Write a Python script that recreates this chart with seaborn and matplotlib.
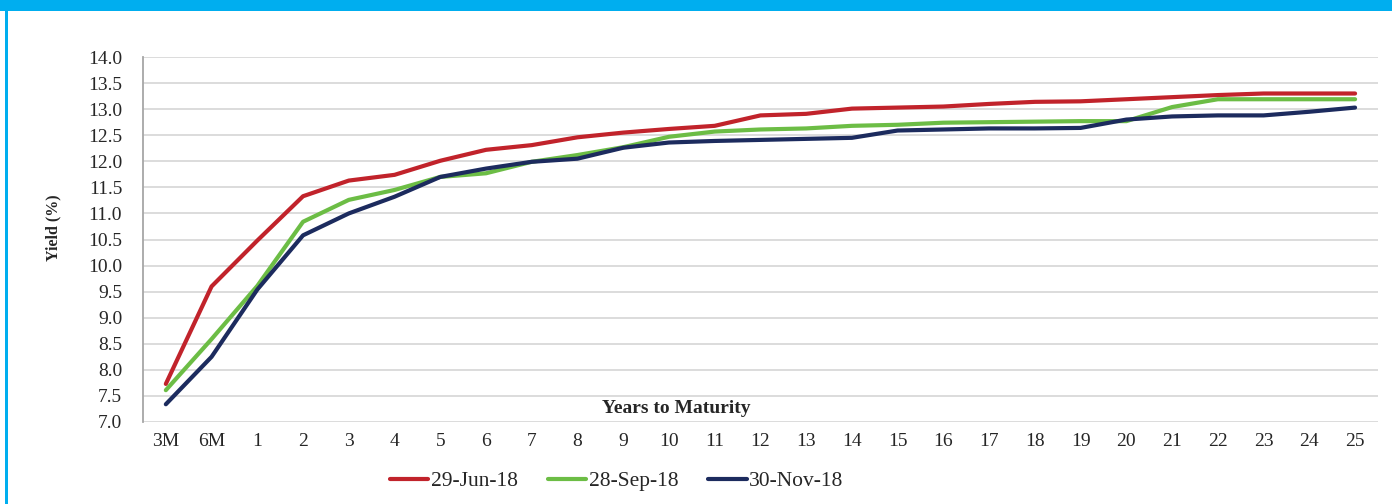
import matplotlib
matplotlib.use("Agg")
import numpy as np
import pandas as pd
import matplotlib.pyplot as plt
import seaborn as sns
from matplotlib.patches import Rectangle


maturities = ["3M", "6M", "1", "2", "3", "4", "5", "6", "7", "8", "9", "10", "11", "12",
              "13", "14", "15", "16", "17", "18", "19", "20", "21", "22", "23", "24", "25"]

jun_yields = [7.73, 9.60, 10.48, 11.33, 11.63, 11.74, 12.01, 12.22, 12.31, 12.46, 12.55, 12.62, 12.68, 12.88,
              12.91, 13.01, 13.03, 13.05, 13.10, 13.14, 13.15, 13.19, 13.23, 13.27, 13.30, 13.30, 13.30]
sep_yields = [7.61, 8.59, 9.61, 10.84, 11.26, 11.45, 11.70, 11.77, 11.99, 12.12, 12.27, 12.47, 12.57, 12.61,
              12.63, 12.68, 12.70, 12.74, 12.75, 12.76, 12.77, 12.77, 13.04, 13.19, 13.19, 13.19, 13.19]
nov_yields = [7.34, 8.25, 9.54, 10.58, 11.00, 11.32, 11.70, 11.86, 11.99, 12.05, 12.26, 12.36, 12.39, 12.41,
              12.43, 12.45, 12.59, 12.61, 12.63, 12.63, 12.64, 12.80, 12.86, 12.88, 12.88, 12.95, 13.03]

series_names = ["29-Jun-18", "28-Sep-18", "30-Nov-18"]
line_colors = ["#C1232B", "#6CBD45", "#1C2B5E"]

frames = []
for name, vals in zip(series_names, [jun_yields, sep_yields, nov_yields]):
    frames.append(pd.DataFrame({"pos": np.arange(len(maturities)), "Maturity": maturities,
                                "Yield": vals, "Series": name}))
df = pd.concat(frames, ignore_index=True)

sns.set_style("white")
plt.rcParams["font.family"] = ["Liberation Serif", "DejaVu Serif"]

fig = plt.figure(figsize=(13.92, 5.04), dpi=100)
ax = fig.add_axes([0.1027, 0.1627, 0.8872, 0.7242])

sns.lineplot(data=df, x="pos", y="Yield", hue="Series", hue_order=series_names,
             palette=line_colors, linewidth=3, ax=ax)

ax.set_xlim(-0.5, len(maturities) - 0.5)
ax.set_ylim(7, 14)
ax.set_yticks(np.arange(7, 14.01, 0.5))
ax.set_yticklabels([f"{v:.1f}" for v in np.arange(7, 14.01, 0.5)])
ax.set_xticks(np.arange(len(maturities)))
ax.set_xticklabels(maturities)
ax.grid(axis="y", color="#D9D9D9", linewidth=1.3)
ax.grid(axis="x", visible=False)
ax.set_axisbelow(True)
for side in ["top", "right", "bottom"]:
    ax.spines[side].set_visible(False)
ax.spines["left"].set_color("#A6A6A6")
ax.spines["left"].set_linewidth(1.3)
ax.tick_params(axis="y", length=0, labelsize=14, pad=15)
ax.tick_params(axis="x", length=0, labelsize=14, pad=8)
ax.set_xlabel("")
ax.set_ylabel("")

ax.text(0.432, 0.038, "Years to Maturity", transform=ax.transAxes, ha="center", va="center",
        fontsize=14, fontweight="bold")
fig.text(0.0384, 0.549, "Yield (%)", rotation=90, ha="center", va="center",
         fontsize=11.5, fontweight="bold")

handles, labels = ax.get_legend_handles_labels()
ax.legend(handles, labels, loc="center", bbox_to_anchor=(0.443, 0.045),
          bbox_transform=fig.transFigure, ncol=3, frameon=False, fontsize=15.5,
          handlelength=1.8, handletextpad=0.1, columnspacing=1.4)

# header band and left frame
fig.patches.append(Rectangle((0, 1 - 11 / 504), 1, 11 / 504, transform=fig.transFigure,
                             facecolor="#00AEEF", edgecolor="none"))
fig.patches.append(Rectangle((5 / 1392, 0), 3 / 1392, 1 - 11 / 504, transform=fig.transFigure,
                             facecolor="#00AEEF", edgecolor="none"))

fig.savefig("out.png", dpi=100)
